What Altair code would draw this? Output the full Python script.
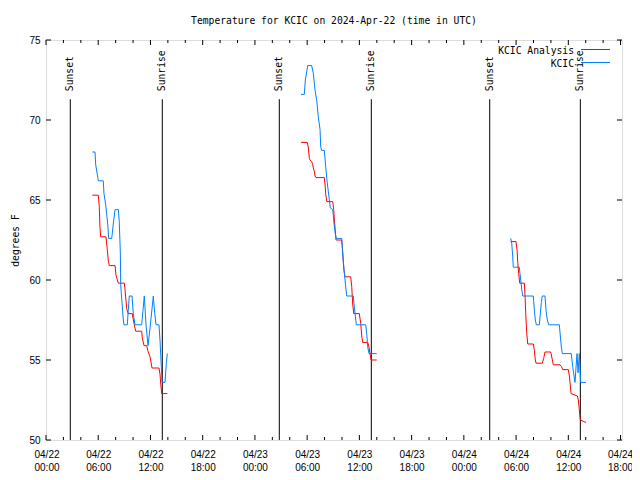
import altair as alt
import pandas as pd
from datetime import datetime, timedelta

# ---------------- data (hours since 2024-04-22 00:00 UTC, degrees F) ----------------
kcic_h = [
    [5.32, 5.63, 5.71, 5.89, 6.01, 6.58, 6.66, 6.86, 6.97, 7.09, 7.20, 7.55, 7.73, 7.93, 8.31,
     8.42, 8.54, 8.58, 8.70, 8.88, 8.96, 9.34, 9.45, 9.57, 9.88, 10.03, 10.22, 10.99, 11.14, 11.29,
     11.49, 11.72, 11.95, 12.33, 12.49, 12.64, 12.98, 13.10, 13.25, 13.33, 13.67, 13.82, 13.94],
    [29.29, 29.67, 29.79, 29.95, 30.06, 30.52, 30.71, 30.90, 31.10, 31.28, 31.48, 31.56, 31.67, 31.97,
     32.13, 32.28, 32.48, 32.66, 32.94, 33.09, 33.23, 33.35, 33.97, 34.12, 34.35, 34.54, 35.30, 35.42,
     35.65, 36.73, 36.85, 36.96, 37.11, 37.99],
    [53.38, 53.50, 53.61, 53.68, 54.37, 54.45, 54.57, 54.68, 54.76, 55.98, 56.10, 56.21, 56.33, 56.67,
     56.79, 56.90, 57.01, 57.32, 57.44, 57.59, 57.75, 58.97, 59.08, 59.20, 59.31, 60.34, 60.50, 60.66,
     60.77, 60.88, 61.00, 61.12, 61.26, 61.34, 61.42, 62.03],
]
kcic_f = [
    [68.0, 68.0, 67.2, 66.6, 66.2, 66.2, 65.4, 64.7, 64.1, 63.5, 62.6, 62.6, 63.5, 64.4, 64.4,
     63.6, 61.7, 59.7, 58.8, 57.5, 57.2, 57.2, 58.1, 59.0, 59.0, 57.9, 57.2, 57.2, 58.1, 59.0,
     57.2, 55.9, 57.0, 59.0, 57.9, 57.2, 57.2, 56.2, 54.5, 53.6, 53.6, 54.8, 55.4],
    [71.6, 71.6, 72.5, 73.0, 73.4, 73.4, 72.9, 71.9, 71.2, 70.2, 69.4, 68.3, 68.1, 68.1,
     67.1, 66.2, 65.3, 64.5, 64.4, 63.5, 62.9, 62.6, 62.6, 61.3, 60.0, 59.0, 59.0, 58.3,
     57.2, 57.2, 56.6, 55.8, 55.4, 55.4],
    [62.6, 62.3, 61.5, 60.8, 60.8, 60.4, 59.8, 59.3, 59.0, 59.0, 58.1, 57.5, 57.2, 57.2,
     57.9, 58.6, 59.0, 59.0, 58.1, 57.5, 57.2, 57.2, 56.5, 55.8, 55.4, 55.4, 54.6, 54.0,
     53.6, 54.5, 55.4, 54.2, 55.4, 54.5, 53.6, 53.6],
]
anal_h = [
    [5.32, 6.01, 6.12, 6.20, 6.28, 6.89, 7.04, 7.16, 7.27, 7.93, 8.04, 8.31, 9.00, 9.08, 9.27,
     9.45, 9.91, 10.03, 10.30, 10.99, 11.06, 11.26, 11.57, 11.68, 11.95, 12.18, 12.98, 13.10, 13.18,
     13.29, 13.94],
    [29.29, 30.02, 30.13, 30.25, 30.33, 30.52, 30.64, 30.71, 30.82, 30.90, 31.02, 31.97, 32.05, 32.13,
     32.25, 32.94, 33.05, 33.12, 33.23, 33.31, 33.97, 34.04, 34.15, 34.23, 34.35, 35.00, 35.12, 35.23,
     35.35, 35.99, 36.15, 36.27, 36.38, 36.96, 37.11, 37.22, 37.34, 37.99],
    [53.38, 53.99, 54.11, 54.19, 54.30, 54.42, 54.95, 55.03, 55.11, 55.22, 55.34, 55.98, 56.10, 56.21,
     56.29, 57.01, 57.17, 57.32, 57.98, 58.13, 58.28, 59.05, 59.20, 59.36, 60.00, 60.12, 60.23, 60.31,
     61.04, 61.15, 61.26, 61.38, 62.03],
]
anal_f = [
    [65.3, 65.3, 64.6, 63.3, 62.7, 62.7, 61.9, 61.2, 60.9, 60.9, 60.3, 59.8, 59.8, 59.4, 58.2,
     57.9, 57.9, 57.5, 56.8, 56.8, 56.4, 55.9, 55.9, 55.6, 55.2, 54.5, 54.5, 54.1, 53.5, 52.9, 52.9],
    [68.6, 68.6, 68.3, 67.6, 67.5, 67.4, 67.2, 67.0, 66.8, 66.5, 66.4, 66.4, 66.0, 65.4,
     64.9, 64.9, 64.4, 63.8, 63.1, 62.5, 62.5, 62.1, 61.2, 60.6, 60.2, 60.2, 59.6, 58.5,
     57.9, 57.9, 57.3, 56.5, 56.1, 56.1, 55.8, 55.4, 55.0, 55.0],
    [62.4, 62.4, 61.9, 61.1, 60.4, 59.8, 59.8, 59.0, 57.9, 56.7, 56.0, 56.0, 55.6, 55.0,
     54.8, 54.8, 55.1, 55.5, 55.5, 55.1, 54.7, 54.7, 54.6, 54.4, 54.4, 54.0, 53.4, 52.9,
     52.75, 52.5, 51.9, 51.25, 51.1],
]

sun_labels = ["Sunset", "Sunrise", "Sunset", "Sunrise", "Sunset", "Sunrise"]
sun_h = [2.79, 13.36, 26.80, 37.37, 50.97, 61.38]

major_tick_h = list(range(0, 67, 6))
minor_tick_h = [h for h in range(0, 67, 2) if h % 6 != 0]
y_ticks = [50, 55, 60, 65, 70, 75]

series_names = ["KCIC Analysis", "KCIC"]
series_colors = ["#ff0000", "#0080ff"]

# ---------------- helpers ----------------
BASE = datetime(2024, 4, 22)


def iso(h):
    return (BASE + timedelta(hours=h)).strftime("%Y-%m-%dT%H:%M:%SZ")


rows = []
for name, hs, fs in [("KCIC Analysis", anal_h, anal_f), ("KCIC", kcic_h, kcic_f)]:
    for si, (hh, ff) in enumerate(zip(hs, fs)):
        for i, (h, f) in enumerate(zip(hh, ff)):
            rows.append({"series": name, "seg": f"{name}-{si}", "i": i, "t": iso(h), "v": f})
lines_df = pd.DataFrame(rows)
sun_df = pd.DataFrame({"t": [iso(h) for h in sun_h], "label": sun_labels})
major_df = pd.DataFrame({"t": [iso(h) for h in major_tick_h]})
minor_df = pd.DataFrame({"t": [iso(h) for h in minor_tick_h]})
ytick_df = pd.DataFrame({"v": y_ticks})

W, H = 576, 400
FONT = "DejaVu Sans Mono"
FS = 9.7

xscale = alt.Scale(type="utc", domain=[
    alt.DateTime(year=2024, month=4, date=22, hours=0, utc=True),
    alt.DateTime(year=2024, month=4, date=24, hours=18, minutes=10, utc=True)])
xaxis = alt.Axis(
    values=[alt.DateTime(year=2024, month=4, date=22 + h // 24, hours=h % 24, utc=True) for h in major_tick_h],
    labelExpr="[utcFormat(datum.value, '%m/%d'), utcFormat(datum.value, '%H:%M')]",
    ticks=False, tickSize=0, domain=False, grid=False,
    labelBaseline="top", labelPadding=9, labelLineHeight=13, labelFlush=5, labelFlushOffset=12,
    labelOverlap=False, title=None)
yscale = alt.Scale(domain=[50, 75], nice=False, zero=False)
yaxis = alt.Axis(values=y_ticks, ticks=False, tickSize=0, domain=False, grid=False,
                 labelPadding=6, title="degrees F", titlePadding=8,
                 titleFontWeight="normal", titleFont=FONT, titleFontSize=FS, titleColor="black")

X = alt.X("t:T", scale=xscale, axis=xaxis)
Y_T = "degrees F"

sun_rules = alt.Chart(sun_df).mark_rule(color="black", strokeWidth=1).encode(
    x=X,
    y=alt.Y(datum=71.3, scale=yscale, axis=yaxis, title=Y_T),
    y2=alt.Y2(datum=50),
)
sun_text = alt.Chart(sun_df).mark_text(
    angle=270, align="left", baseline="middle", font=FONT, fontSize=FS, color="black"
).encode(
    x=X,
    y=alt.Y(datum=71.8, scale=yscale, axis=yaxis, title=Y_T),
    text="label:N",
)
lines = alt.Chart(lines_df).mark_line(strokeWidth=1, interpolate="linear").encode(
    x=X,
    y=alt.Y("v:Q", scale=yscale, axis=yaxis, title=Y_T),
    color=alt.Color("series:N", scale=alt.Scale(domain=series_names, range=series_colors), legend=None),
    detail="seg:N",
    order="i:Q",
)

tick_style = dict(color="black", strokeWidth=1)
xt_major_bot = alt.Chart(major_df).mark_rule(**tick_style).encode(x=X, y=alt.value(H), y2=alt.value(H - 5))
xt_major_top = alt.Chart(major_df).mark_rule(**tick_style).encode(x=X, y=alt.value(0), y2=alt.value(5))
xt_minor_bot = alt.Chart(minor_df).mark_rule(**tick_style).encode(x=X, y=alt.value(H), y2=alt.value(H - 3))
xt_minor_top = alt.Chart(minor_df).mark_rule(**tick_style).encode(x=X, y=alt.value(0), y2=alt.value(3))
Yv = alt.Y("v:Q", scale=yscale, axis=yaxis, title=Y_T)
yt_left = alt.Chart(ytick_df).mark_rule(**tick_style).encode(y=Yv, x=alt.value(0), x2=alt.value(5))
yt_right = alt.Chart(ytick_df).mark_rule(**tick_style).encode(y=Yv, x=alt.value(W), x2=alt.value(W - 5))

leg_rows = pd.DataFrame({"label": series_names})
leg_text = []
leg_lines = []
for k, (name, col) in enumerate(zip(series_names, series_colors)):
    d = leg_rows[leg_rows["label"] == name]
    leg_text.append(alt.Chart(d).mark_text(
        align="right", baseline="middle", font=FONT, fontSize=FS, color="black"
    ).encode(x=alt.value(528), y=alt.value(10.7 + 13 * k), text="label:N"))
    leg_lines.append(alt.Chart(d).mark_rule(color=col, strokeWidth=1).encode(
        x=alt.value(535), x2=alt.value(564), y=alt.value(9.5 + 13 * k)))

chart = alt.layer(
    sun_rules, sun_text, lines,
    xt_major_bot, xt_major_top, xt_minor_bot, xt_minor_top, yt_left, yt_right,
    *leg_text, *leg_lines,
).properties(
    width=W, height=H,
    title=alt.TitleParams("Temperature for KCIC on 2024-Apr-22 (time in UTC)",
                          anchor="middle", offset=9, font=FONT, fontSize=FS,
                          fontWeight="normal", color="black"),
    autosize=alt.AutoSizeParams(type="none"),
    padding={"left": 38, "top": 32, "right": 10, "bottom": 31},
).configure_axis(
    labelFont=FONT, labelFontSize=FS, labelColor="black",
    titleFont=FONT, titleFontSize=FS, titleFontWeight="normal", titleColor="black",
).configure_view(stroke="black", strokeWidth=1).configure(background="white")

chart.save("out.html", embed_options={"renderer": "svg", "actions": False})
